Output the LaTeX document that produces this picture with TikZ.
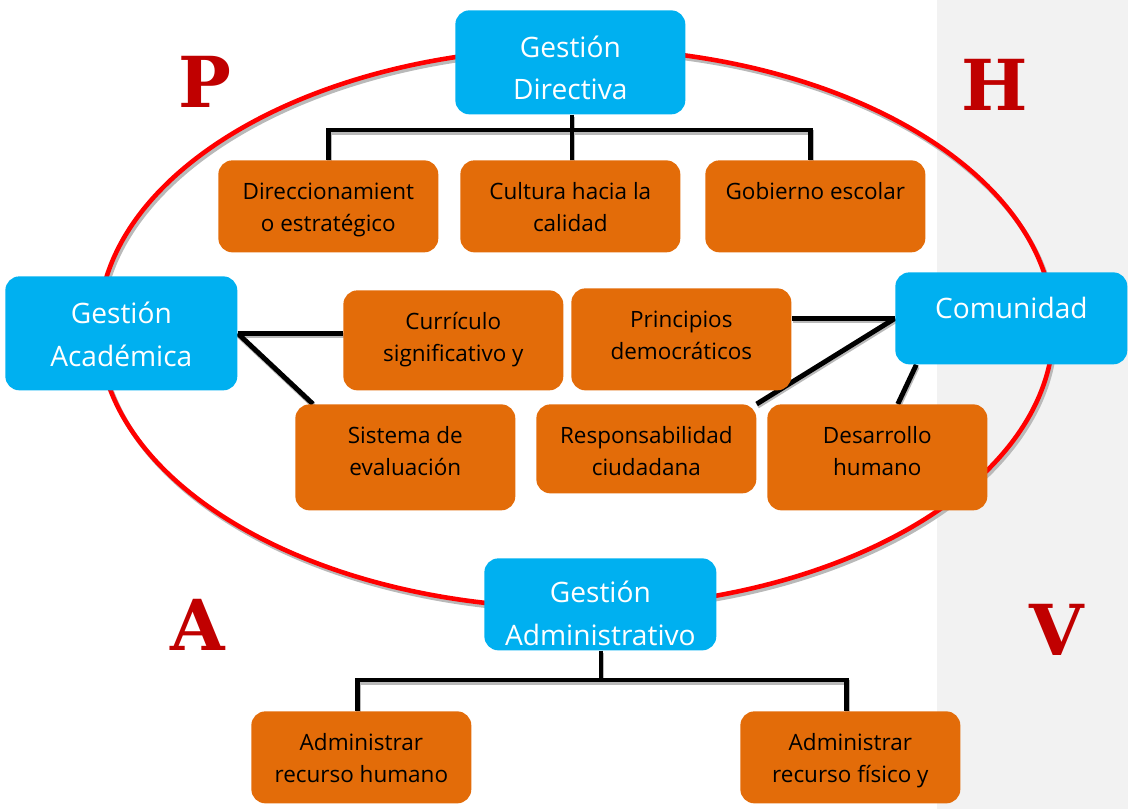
\documentclass[tikz,border=0pt]{standalone}
\usepackage{fontspec}
\usepackage{pdfrender}
\setmainfont{Open Sans}
\newfontfamily\letrafont{DejaVu Serif}
\usetikzlibrary{positioning,shapes,calc,backgrounds}

\definecolor{azulgestion}{RGB}{0,176,240}
\definecolor{naranjatarea}{RGB}{227,108,9}
\definecolor{rojoletra}{RGB}{192,0,0}

% caja de alto fijo, texto arriba
\newcommand{\cajatexto}[4]{\parbox[c][#1][t]{#2}{\centering\vspace*{#3}\strut #4}}
% letra roja con borde negro
\newcommand{\letraphva}[1]{\textpdfrender{TextRenderingMode=FillStroke, LineWidth=0.7pt, StrokeColor=black}{#1}}

\tikzset{
  gestion/.style={fill=azulgestion, rounded corners=8pt, inner sep=0pt, anchor=north west, text=white,
    font=\fontsize{16}{24.4}\selectfont},
  tarea/.style={fill=naranjatarea, rounded corners=8pt, inner sep=0pt, anchor=north west,
    font=\fontsize{12.8}{18.1}\selectfont},
  enlace/.style={line width=2.8pt, preaction={draw=gray!55, line width=2.8pt,
    transform canvas={shift={(0.5pt,-1.2pt)}}}},
  letra/.style={text=rojoletra, font=\letrafont\bfseries\fontsize{40}{40}\selectfont},
}

\begin{document}
\begin{tikzpicture}[x=0.02cm, y=-0.02cm]
  \useasboundingbox (0,0) rectangle (1128,809);

  % gestiones
  \node[gestion] (directiva) at (455,10) {\cajatexto{2.08cm}{4.6cm}{9.5pt}{Gestión\\Directiva}};
  \node[gestion] (academica) at (5,276) {\cajatexto{2.28cm}{4.64cm}{10pt}{Gestión\\Académica}};
  \node[gestion] (comunidad) at (895,272) {\cajatexto{1.84cm}{4.64cm}{9pt}{Comunidad}};
  \node[gestion] (administrativo) at (484,558) {\cajatexto{1.84cm}{4.64cm}{8pt}{Gestión\\Administrativo}};

  % procesos
  \node[tarea] (direccionamiento) at (218,160) {\cajatexto{1.84cm}{4.4cm}{9.5pt}{Direccionamient\\o estratégico}};
  \node[tarea] (cultura) at (460,160) {\cajatexto{1.84cm}{4.4cm}{9.5pt}{Cultura hacia la\\calidad}};
  \node[tarea] (gobierno) at (705,160) {\cajatexto{1.84cm}{4.4cm}{9.5pt}{Gobierno escolar}};
  \node[tarea] (curriculo) at (343,290) {\cajatexto{2cm}{4.4cm}{9.5pt}{Currículo\\significativo y}};
  \node[tarea] (principios) at (571,288) {\cajatexto{2.04cm}{4.4cm}{9.5pt}{Principios\\democráticos}};
  \node[tarea] (sistema) at (295,404) {\cajatexto{2.12cm}{4.4cm}{9.5pt}{Sistema de\\evaluación}};
  \node[tarea] (responsabilidad) at (536,404) {\cajatexto{1.78cm}{4.4cm}{9.5pt}{Responsabilidad\\ciudadana}};
  \node[tarea] (desarrollo) at (767,404) {\cajatexto{2.12cm}{4.4cm}{9.5pt}{Desarrollo\\humano}};
  \node[tarea] (humano) at (251,711) {\cajatexto{1.84cm}{4.4cm}{9.5pt}{Administrar\\recurso humano}};
  \node[tarea] (fisico) at (740,711) {\cajatexto{1.84cm}{4.4cm}{9.5pt}{Administrar\\recurso físico y}};

  % letras
  \node[letra] (p) at (205,82) {\letraphva{P}};
  \node[letra] (h) at (995,85) {\letraphva{H}};
  \node[letra] (a) at (198,625) {\letraphva{A}};
  \node[letra] (v) at (1057,630) {\letraphva{V}};

  \coordinate (ramaD) at (572,130);
  \coordinate (ramaA) at (601,680);

  \begin{scope}[on background layer]
    \fill[black!5] (937,0) rectangle (1128,809);
    % ciclo PHVA
    \draw[gray!55, line width=2.6pt] (578,331) ellipse [x radius=9.55cm, y radius=5.6cm];
    \draw[red, line width=2.6pt] (576,328) ellipse [x radius=9.55cm, y radius=5.6cm];
    % ramas
    \draw[enlace] (directiva.south -| ramaD) -- (ramaD);
    \draw[enlace] (direccionamiento.north) |- (ramaD) -| ($(gobierno.north)+(-5,0)$);
    \draw[enlace] (cultura.north -| ramaD) -- (ramaD);
    \draw[enlace] (administrativo.south -| ramaA) -- (ramaA);
    \draw[enlace] ($(humano.north)+(-4,0)$) |- (ramaA) -| ($(fisico.north)+(-4,0)$);
    \draw[enlace] (academica.east) -- (curriculo.west |- academica.east);
    \draw[enlace] (academica.east) -- (sistema.150);
    \draw[enlace] (comunidad.west) -- (principios.east |- comunidad.west);
    \draw[enlace] (comunidad.west) -- (responsabilidad.north east);
    \draw[enlace] (comunidad.206) -- (desarrollo.69);
  \end{scope}
\end{tikzpicture}
\end{document}
